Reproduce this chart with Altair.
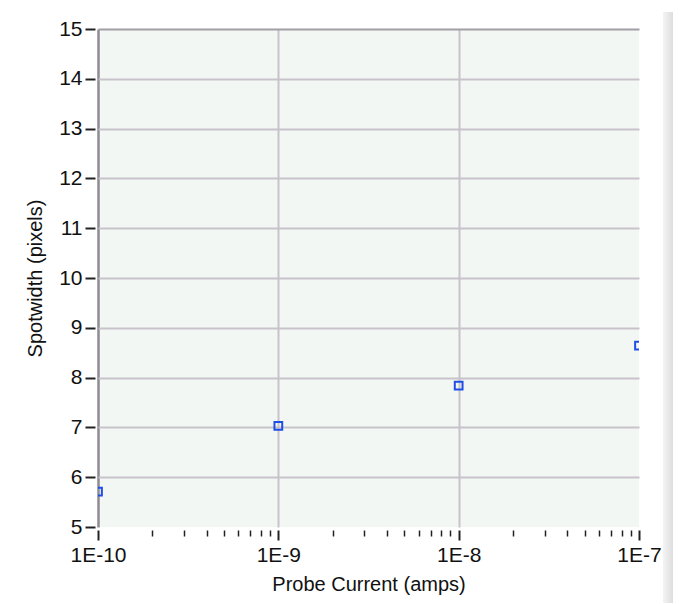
import altair as alt
import pandas as pd

# data
probe_current = [1e-10, 1e-9, 1e-8, 1e-7]
spotwidth = [5.71, 7.03, 7.84, 8.64]

# axis tick values
x_ticks = [m * 10.0 ** e for e in (-10, -9, -8) for m in range(1, 10)] + [1e-7]
y_ticks = list(range(5, 16))

df = pd.DataFrame({"current": probe_current, "width": spotwidth})

FONT = "Liberation Sans"
MAJOR = "abs(log(datum.value)/LN10 - round(log(datum.value)/LN10)) < 0.001"

x_axis = alt.Axis(
    values=x_ticks,
    title="Probe Current (amps)",
    labelExpr=f"{MAJOR} ? '1E-' + round(-log(datum.value)/LN10) : ''",
    labelOverlap=False,
    labelFlush=False,
    labelFont=FONT,
    labelFontSize=21,
    labelColor="#111111",
    labelPadding=4,
    titleFont=FONT,
    titleFontSize=20,
    titleFontWeight="normal",
    titleColor="#111111",
    titlePadding=9,
    domain=False,
    offset=3,
    tickColor="#222222",
    tickSize={"condition": {"test": MAJOR, "value": 10}, "value": 6},
    tickWidth={"condition": {"test": MAJOR, "value": 2}, "value": 1.5},
    grid=True,
    gridColor={"condition": {"test": "datum.value < 2e-10", "value": "#8f8a93"}, "value": "#c8c2ca"},
    gridWidth={"condition": {"test": "datum.value < 2e-10", "value": 2.5}, "value": 2},
    gridOpacity={"condition": {"test": f"({MAJOR}) && datum.value < 5e-8", "value": 1}, "value": 0},
)

y_axis = alt.Axis(
    values=y_ticks,
    title="Spotwidth (pixels)",
    labelFont=FONT,
    labelFontSize=21,
    labelColor="#111111",
    labelPadding=3,
    titleFont=FONT,
    titleFontSize=20,
    titleFontWeight="normal",
    titleColor="#111111",
    titlePadding=13,
    domain=False,
    offset=3,
    tickColor="#222222",
    tickSize=10,
    tickWidth=2,
    grid=True,
    gridColor={"condition": {"test": "datum.value == 15", "value": "#a39da6"}, "value": "#c8c2ca"},
    gridWidth=2,
    gridOpacity={"condition": {"test": "datum.value == 5", "value": 0}, "value": 1},
)

points = alt.Chart(df).mark_point(
    shape="square", filled=False, size=60, strokeWidth=2, color="#1f4fe6", opacity=1, clip=True
).encode(
    x=alt.X("current:Q", scale=alt.Scale(type="log", domain=[1e-10, 1e-7], nice=False), axis=x_axis),
    y=alt.Y("width:Q", scale=alt.Scale(domain=[5, 15], nice=False, zero=False), axis=y_axis),
)

side_bar = alt.Chart(pd.DataFrame({"a": [0]})).mark_rect(
    clip=False,
    color=alt.LinearGradient(
        gradient="linear",
        stops=[
            alt.GradientStop(color="#f4f4f4", offset=0),
            alt.GradientStop(color="#d8d8d8", offset=0.5),
            alt.GradientStop(color="#b4b4b4", offset=1),
        ],
        x1=0, x2=1, y1=0, y2=0,
    ),
).encode(
    x=alt.value(565), x2=alt.value(590), y=alt.value(-17), y2=alt.value(590)
)

chart = alt.layer(points, side_bar).properties(
    width=541,
    height=498,
    autosize=alt.AutoSizeParams(type="none"),
    padding={"left": 90, "top": 21, "right": 34, "bottom": 76},
    background="white",
).configure_view(fill="#f3f7f3", stroke=None)

chart.save("out.html", embed_options={"renderer": "svg", "actions": False})
